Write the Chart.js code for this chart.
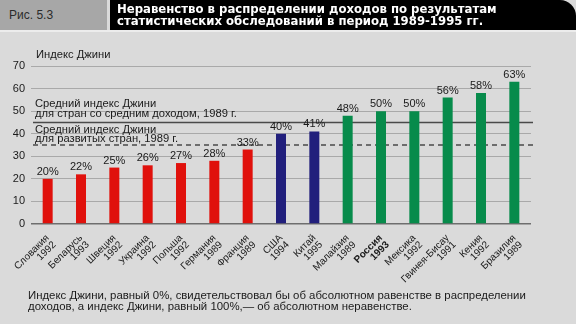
<!DOCTYPE html>
<html>
<head>
<meta charset="utf-8">
<script src="https://cdn.jsdelivr.net/npm/chart.js@4"></script>
<style>
  html, body { margin: 0; padding: 0; }
  body { width: 576px; height: 324px; background: #dadada; position: relative; overflow: hidden;
         font-family: "Liberation Sans", Arial, sans-serif; }
  #fig { position: absolute; left: 0; top: 0; width: 107px; height: 30px; background: #a7a7a7;
         color: #2b2b2b; font-size: 12px; line-height: 30px; padding-left: 9px; box-sizing: border-box; }
  #head { position: absolute; left: 110px; top: 0; width: 466px; height: 30px; background: #000;
          border-top-right-radius: 16px; color: #fff; font-weight: bold; font-size: 11.7px;
          font-family: "DejaVu Sans", sans-serif;
          line-height: 11.5px; padding: 4px 0 0 7px; box-sizing: border-box; white-space: nowrap; }
  #rule { position: absolute; left: 0; top: 30px; width: 576px; height: 2px; background: #ececec; }
  #note { position: absolute; left: 28px; top: 290px; font-size: 11.4px; line-height: 11px; color: #1a1a1a;
          white-space: nowrap; }
  #wrap { position: absolute; left: 0; top: 0; width: 576px; height: 324px; }
</style>
</head>
<body>
<div id="wrap"><canvas id="grafico"></canvas></div>
<div id="fig">Рис. 5.3</div>
<div id="head">Неравенство в распределении доходов по результатам<br>статистических обследований в период 1989-1995 гг.</div>
<div id="rule"></div>
<div id="note">Индекс Джини, равный 0%, свидетельствовал бы об абсолютном равенстве в распределении<br>доходов, а индекс Джини, равный 100%,— об абсолютном неравенстве.</div>
<script>
let paises = ['Словакия', 'Беларусь', 'Швеция', 'Украина', 'Польша', 'Германия', 'Франция',
              'США', 'Китай', 'Малайзия', 'Россия', 'Мексика', 'Гвинея-Бисау', 'Кения', 'Бразилия'];
let anios = ['1992', '1993', '1992', '1992', '1992', '1989', '1989',
             '1994', '1995', '1989', '1993', '1992', '1991', '1992', '1989'];
let gini = [20, 22, 25, 26, 27, 28, 33, 40, 41, 48, 50, 50, 56, 58, 63];
let grupo = ['a', 'a', 'a', 'a', 'a', 'a', 'a', 'b', 'b', 'c', 'c', 'c', 'c', 'c', 'c'];
let yTicks = [0, 10, 20, 30, 40, 50, 60, 70];

// средние значения за 1989 г.
let mediaMedios = 45;
let mediaDesarrollados = 35;

let colores = { a: '#e0110c', b: '#211f7c', c: '#078b4b' };
let negrita = 'Россия';

let etiquetas = paises.map((p, i) => [p, anios[i]]);

let extras = {
  id: 'extras',
  beforeDatasetsDraw(chart) {
    let ctx = chart.ctx;
    let y = chart.scales.y;
    let area = chart.chartArea;
    ctx.save();
    ctx.strokeStyle = '#4a4a4a';
    ctx.lineWidth = 1.5;
    // линия для стран со средним доходом
    let y1 = y.getPixelForValue(mediaMedios);
    ctx.beginPath();
    ctx.moveTo(area.left + 2, y1);
    ctx.lineTo(area.right + 2, y1);
    ctx.stroke();
    // линия для развитых стран
    let y2 = y.getPixelForValue(mediaDesarrollados);
    ctx.setLineDash([5, 4]);
    ctx.beginPath();
    ctx.moveTo(area.left + 2, y2);
    ctx.lineTo(area.right + 2, y2);
    ctx.stroke();
    ctx.setLineDash([]);

    ctx.fillStyle = '#1a1a1a';
    ctx.font = '11.2px "Liberation Sans", Arial, sans-serif';
    ctx.textBaseline = 'alphabetic';
    ctx.textAlign = 'left';
    ctx.fillText('Средний индекс Джини', area.left + 4, y1 - 15);
    ctx.fillText('для стран со средним доходом, 1989 г.', area.left + 4, y1 - 5);
    ctx.fillText('Средний индекс Джини', area.left + 4, y2 - 12);
    ctx.fillText('для развитых стран, 1989 г.', area.left + 4, y2 - 3);
    ctx.fillText('Индекс Джини', area.left + 5, area.top - 8);
    ctx.restore();
  },
  afterDatasetsDraw(chart) {
    let ctx = chart.ctx;
    let meta = chart.getDatasetMeta(0);
    ctx.save();
    ctx.fillStyle = '#1a1a1a';
    ctx.font = '11px "Liberation Sans", Arial, sans-serif';
    ctx.textAlign = 'center';
    ctx.textBaseline = 'alphabetic';
    meta.data.forEach((bar, i) => {
      ctx.fillText(gini[i] + '%', bar.x, bar.y - 4);
    });
    ctx.restore();
  }
};

let grafico = document.getElementById('grafico').getContext('2d');
let chart = new Chart(grafico, {
  type: 'bar',
  data: {
    labels: etiquetas,
    datasets: [{
      label: 'Индекс Джини',
      data: gini,
      backgroundColor: grupo.map(g => colores[g]),
      barPercentage: 0.3,
      categoryPercentage: 1
    }]
  },
  options: {
    responsive: true,
    maintainAspectRatio: false,
    animation: false,
    layout: { padding: { top: 66, right: 45, bottom: 28, left: 0 } },
    plugins: { legend: { display: false }, tooltip: { enabled: false } },
    scales: {
      x: {
        grid: { display: false },
        border: { display: false },
        afterFit(scale) { scale.height = 72; },
        ticks: {
          minRotation: 45,
          maxRotation: 45,
          autoSkip: false,
          padding: 1,
          color: '#1a1a1a',
          font(c) {
            let nombre = paises[c.index];
            return {
              family: '"Liberation Sans", Arial, sans-serif',
              size: 10,
              lineHeight: 0.95,
              weight: nombre === negrita ? 'bold' : 'normal'
            };
          }
        }
      },
      y: {
        min: 0,
        max: 70,
        afterFit(scale) { scale.width = 31; },
        afterBuildTicks(scale) { scale.ticks = yTicks.map(v => ({ value: v })); },
        border: { display: false },
        grid: {
          drawTicks: false,
          color: c => c.tick.value === 0 ? '#6e6e6e' : '#a9a9a9',
          lineWidth: c => c.tick.value === 0 ? 1.6 : 1
        },
        ticks: {
          padding: 6,
          color: '#1a1a1a',
          font: { family: '"Liberation Sans", Arial, sans-serif', size: 11 }
        }
      }
    }
  },
  plugins: [extras]
});
</script>
</body>
</html>
